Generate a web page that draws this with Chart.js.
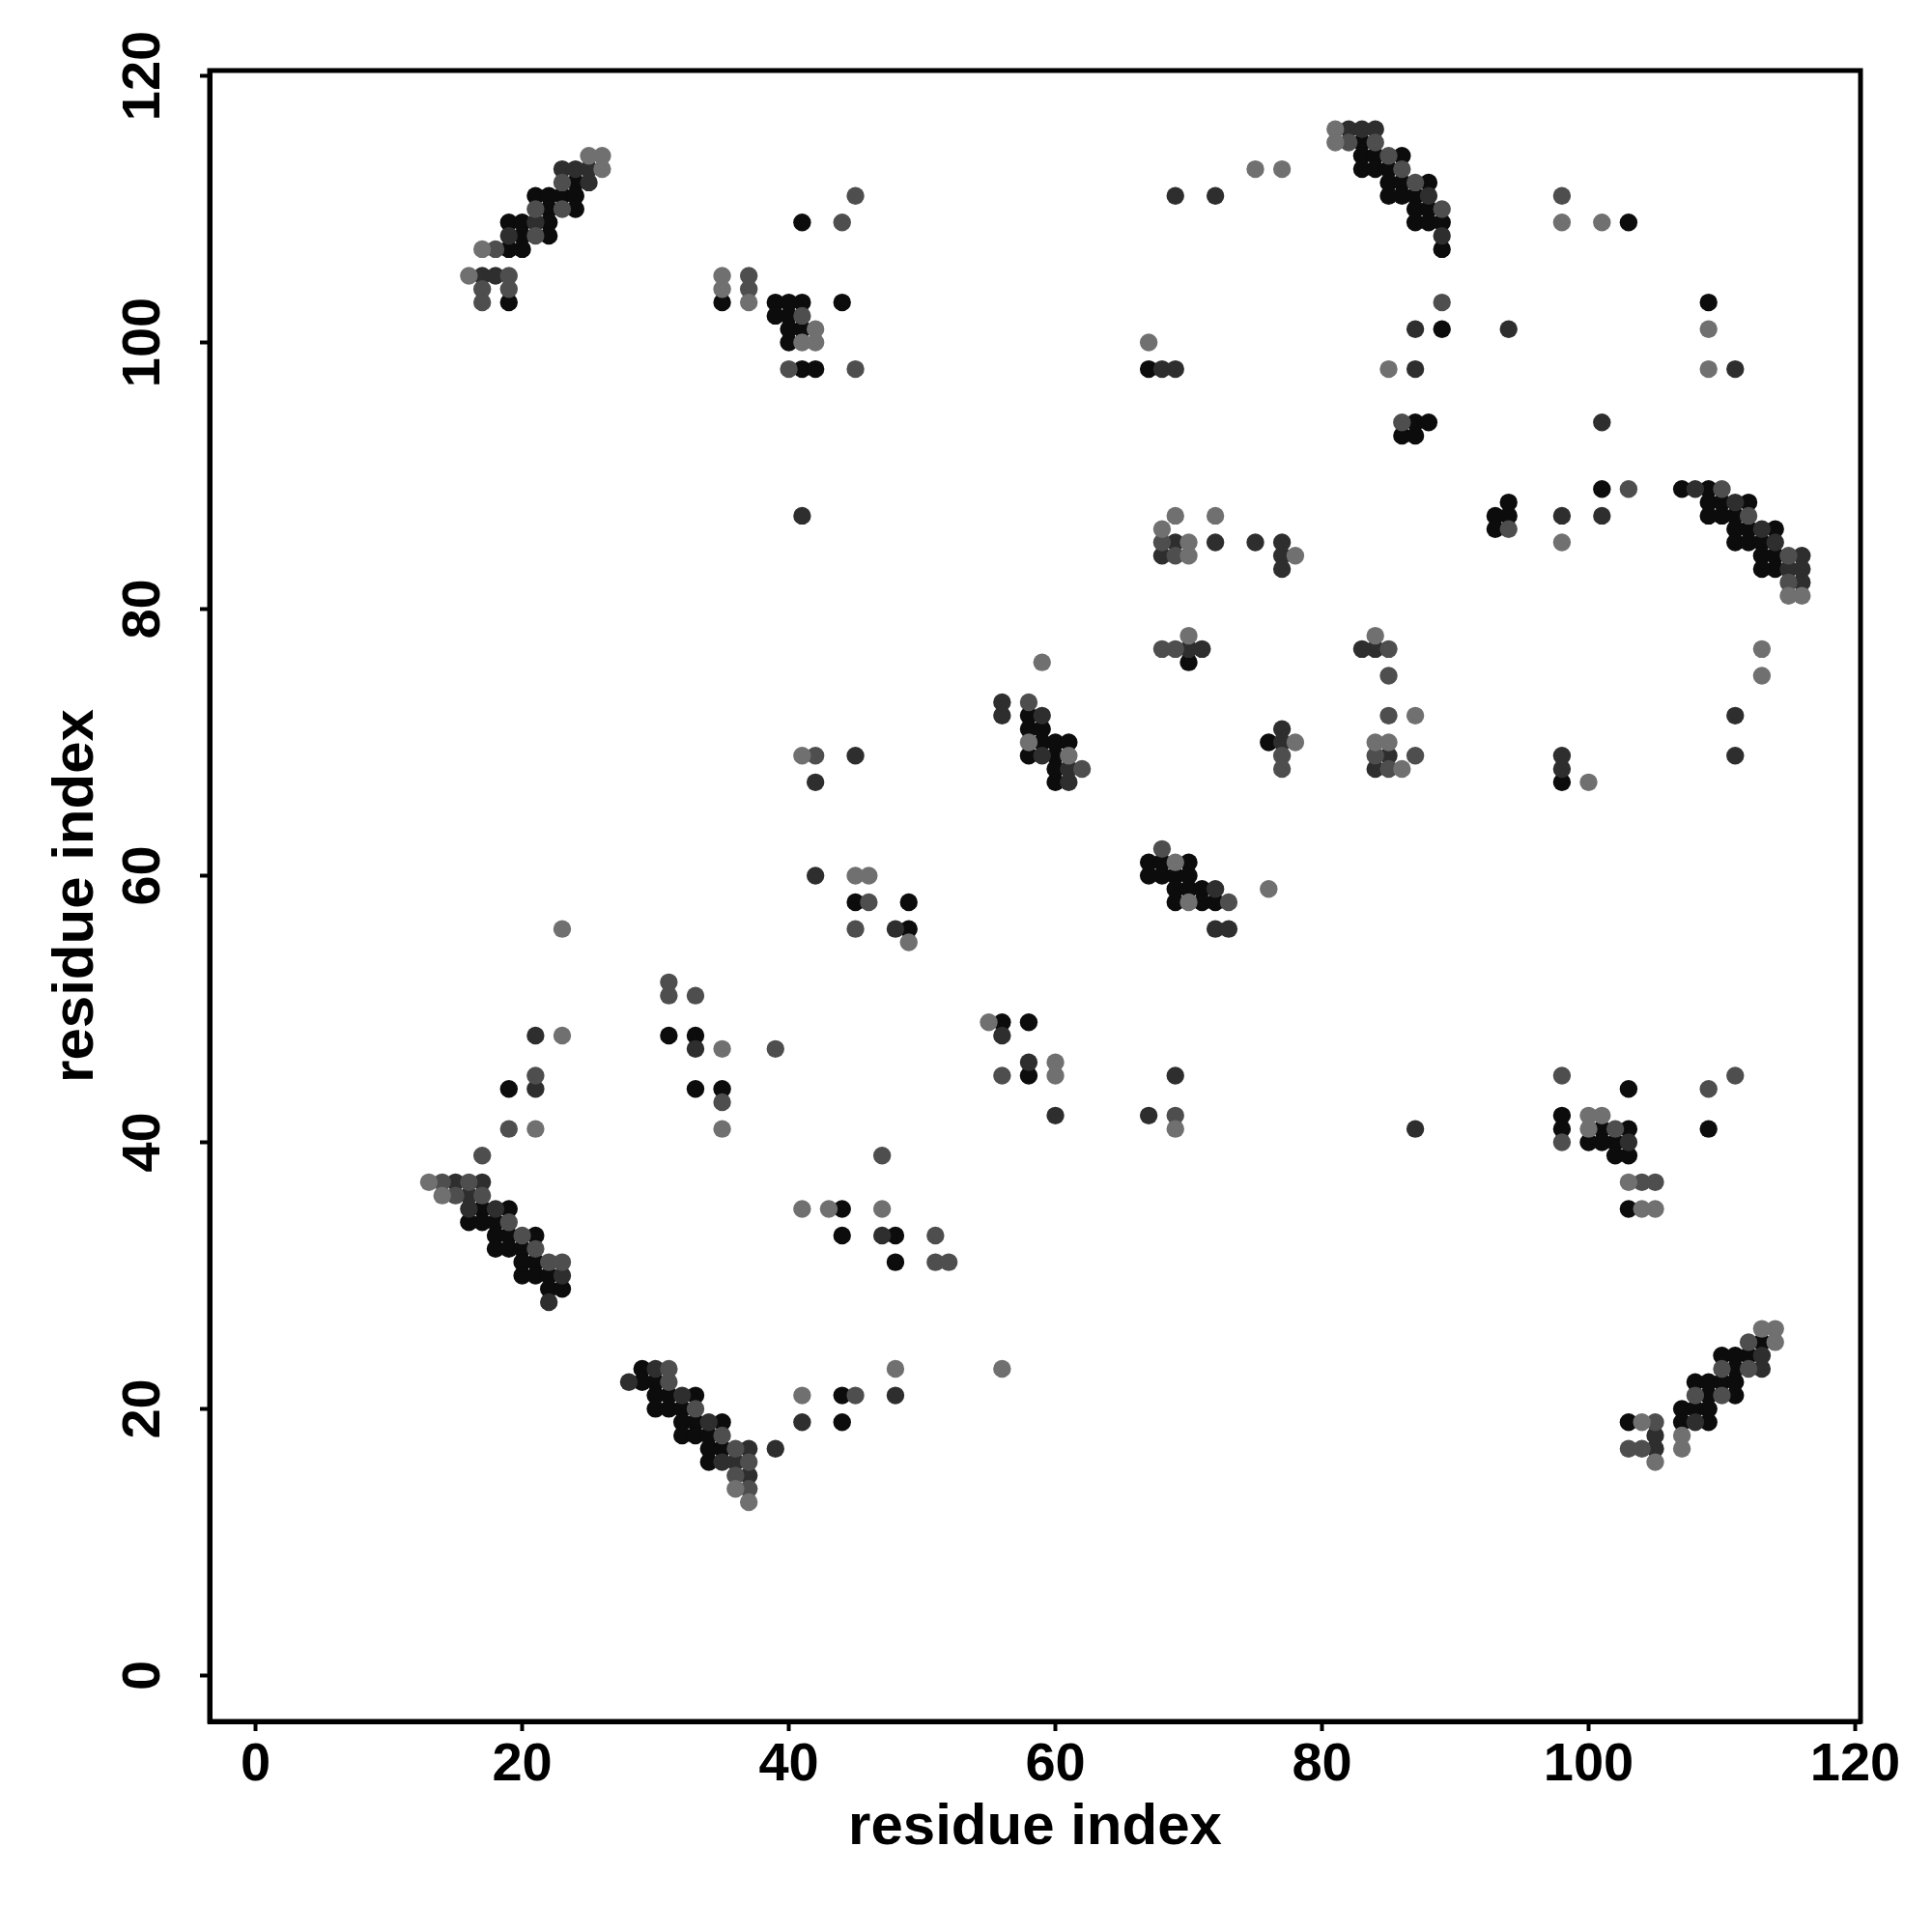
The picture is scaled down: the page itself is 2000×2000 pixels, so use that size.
<!DOCTYPE html>
<html>
<head>
<meta charset="utf-8">
<script src="https://cdn.jsdelivr.net/npm/chart.js@4.4.1/dist/chart.umd.min.js"></script>
<style>
html,body{margin:0;padding:0;background:#fff;}
#wrap{width:2000px;height:2000px;}
</style>
</head>
<body>
<div id="wrap"><canvas id="c" width="2000" height="2000"></canvas></div>
<script>
// ---- data: contact pairs [x, y] (residue index), grouped by grey level ----
const xTicks = [0, 20, 40, 60, 80, 100, 120];
const yTicks = [0, 20, 40, 60, 80, 100, 120];

const lightPts = [
  [25,114],[26,114],[26,113],[17,107],[16,105],
  [114,26],[113,26],[114,25],[104,19],[107,18],[107,17],[105,16],
  [35,105],[35,104],[37,103],[42,101],[41,100],[42,100],
  [100,42],[101,42],[100,41],[103,37],[104,35],[105,35],
  [81,116],[81,115],[85,98],[75,113],[77,113],[67,100],
  [98,109],[101,109],[109,101],[109,98],[98,85],[115,81],[116,81],
  [59,76],[58,70],[61,69],[41,69],[45,60],[46,60],[49,55],
  [69,87],[72,87],[68,86],[70,85],[70,84],[78,84],[70,78],[78,70],[69,61],[76,59],[70,58],
  [84,78],[87,72],[84,70],[85,70],[86,68],[113,77],[113,75],[100,67],
  [23,56],[23,48],[21,41],[13,37],[14,36],
  [35,47],[35,41],[36,14],[37,13],
  [41,35],[43,35],[47,35],[48,23],[41,21],
  [55,49],[60,46],[60,45],[69,41],
  [56,23]
];

const mediumPts = [
  [23,112],[21,110],[23,110],[21,108],[18,107],[19,105],[17,104],[19,104],[17,103],
  [112,25],[110,23],[112,23],[108,21],[110,21],[105,19],[103,17],[104,17],
  [45,111],[44,109],[37,105],[37,104],[41,102],[40,98],[45,98],
  [98,45],[109,44],[111,45],[102,41],[98,40],[104,37],[105,37],
  [82,115],[84,115],[85,114],[86,113],[87,112],[89,110],[89,103],[86,94],
  [98,111],[103,89],[110,89],[112,87],[94,86],[115,84],[115,82],
  [58,73],[62,68],[42,69],[46,58],[45,56],
  [68,85],[69,84],[68,77],[69,77],[77,69],[77,68],[68,62],[73,58],
  [85,77],[85,75],[85,72],[84,69],[87,69],[85,68],
  [21,45],[19,41],[17,39],[14,37],[16,37],[15,36],[17,36],[19,34],[20,33],[21,32],[22,31],[23,31],
  [31,52],[31,51],[33,51],[39,47],[35,43],[31,23],[31,22],[33,20],[35,18],[36,17],[37,16],[36,15],[37,14],
  [47,39],[51,33],[51,31],[52,31],[45,21],
  [56,45],[69,42]
];

const darkPts = [
  [23,113],[24,113],[25,113],[25,112],[21,109],[19,108],[17,105],[18,105],
  [113,24],[113,23],[108,19],[105,18],[105,17],
  [103,40],
  [82,116],[83,116],[84,116],[88,111],[89,108],[87,101],[87,98],[69,111],[72,111],[68,98],[69,98],
  [94,101],[111,98],[101,94],[108,89],[111,88],[98,87],[101,87],[113,86],[114,85],[116,84],[115,83],[116,83],[116,82],
  [56,73],[56,72],[59,72],[59,69],[61,68],[61,67],[45,69],[42,67],[42,60],[48,56],
  [69,85],[72,85],[75,85],[77,85],[68,84],[77,84],[77,83],[70,77],[71,77],[77,71],[77,70],[72,59],[72,56],[73,56],
  [83,77],[84,77],[85,69],[84,68],[111,72],[111,69],[98,69],[98,68],
  [21,48],[21,44],[15,37],[17,37],[16,36],[16,35],[18,35],[23,30],[22,28],
  [33,47],[30,23],[28,22],[32,21],[34,19],[37,17],[39,17],[35,16],[36,16],[37,15],
  [47,33],[48,21],[41,19],
  [56,48],[58,46],[60,42],[69,45],[67,42],
  [87,41],[41,87]
];

const blackPts = [
  [24,112],[21,111],[22,111],[23,111],[24,111],[22,110],[24,110],[19,109],[20,109],[22,109],[20,108],[22,108],[19,107],[20,107],[19,103],
  [113,25],[110,24],[111,24],[112,24],[111,23],[108,22],[109,22],[110,22],[111,22],[109,21],[111,21],[107,20],[108,20],[109,20],[103,19],[107,19],[109,19],
  [41,109],[35,103],[39,103],[40,103],[41,103],[44,103],[39,102],[40,102],[40,101],[41,101],[40,100],[41,98],[42,98],
  [103,44],[109,41],[98,42],[98,41],[101,41],[103,41],[100,40],[101,40],[102,40],[102,39],[103,39],[103,35],
  [83,115],[83,114],[84,114],[86,114],[83,113],[84,113],[85,113],[85,112],[86,112],[88,112],[85,111],[86,111],[87,111],[87,110],[88,110],[87,109],[88,109],[89,109],[89,107],[89,101],[87,94],[88,94],[86,93],[87,93],[67,98],
  [103,109],[109,103],[101,89],[107,89],[109,89],[94,88],[109,88],[110,88],[112,88],[93,87],[94,87],[109,87],[110,87],[111,87],[93,86],[111,86],[112,86],[114,86],[111,85],[112,85],[113,85],[113,84],[114,84],[113,83],[114,83],
  [58,72],[58,71],[59,71],[59,70],[60,70],[61,70],[58,69],[60,69],[60,68],[60,67],[45,58],[49,58],[49,56],
  [70,76],[76,70],[67,61],[68,61],[70,61],[67,60],[68,60],[69,60],[70,60],[69,59],[70,59],[71,59],[69,58],[71,58],[72,58],
  [98,67],
  [19,44],[17,35],[19,35],[16,34],[17,34],[18,34],[18,33],[19,33],[21,33],[18,32],[19,32],[20,32],[20,31],[21,31],[20,30],[21,30],[22,30],[22,29],[23,29],
  [31,48],[33,48],[33,44],[35,44],[29,23],[29,22],[30,22],[30,21],[31,21],[33,21],[30,20],[31,20],[32,20],[32,19],[33,19],[35,19],[32,18],[33,18],[34,18],[34,17],[35,17],[34,16],
  [44,35],[44,33],[48,33],[48,31],[44,21],[44,19],
  [56,49],[58,49],[58,45]
];

// ---- styling ----
const FONT = "'Liberation Sans', Arial, Helvetica, sans-serif";
const toXY = pts => pts.map(p => ({x: p[0], y: p[1]}));
const mk = (label, pts, color) => ({
  label, data: toXY(pts), backgroundColor: color, borderWidth: 0,
  pointRadius: 9.2, pointHoverRadius: 9.2
});

const framePlugin = {
  id: 'frame',
  afterDatasetsDraw(chart) {
    const {ctx, chartArea: a} = chart;
    ctx.save();
    ctx.strokeStyle = '#000';
    ctx.lineWidth = 5;
    ctx.strokeRect(a.left, a.top, a.right - a.left, a.bottom - a.top);
    ctx.restore();
  }
};

const axisCommon = {
  type: 'linear',
  min: -3.45,
  max: 120.4,
  grid: {display: true, drawOnChartArea: false, drawTicks: true, tickLength: 10, tickWidth: 4, tickColor: '#000'},
  border: {display: true, color: '#000', width: 5}
};

new Chart(document.getElementById('c'), {
  type: 'scatter',
  data: {
    datasets: [
      mk('light', lightPts, '#707070'),
      mk('medium', mediumPts, '#4e4e4e'),
      mk('dark', darkPts, '#2e2e2e'),
      mk('black', blackPts, '#0c0c0c')
    ]
  },
  options: {
    responsive: false,
    animation: false,
    layout: {padding: {left: 0, top: 73, right: 74, bottom: 68}},
    plugins: {legend: {display: false}, tooltip: {enabled: false}},
    scales: {
      x: Object.assign({}, axisCommon, {
        position: 'bottom',
        afterBuildTicks: s => { s.ticks = xTicks.map(v => ({value: v})); },
        afterFit: s => { s.height = 150; },
        ticks: {color: '#000', font: {family: FONT, size: 56, weight: 'bold'}, padding: 2, maxRotation: 0, autoSkip: false},
        title: {display: true, text: 'residue index', color: '#000',
                font: {family: FONT, size: 60, weight: 'bold'}, padding: {top: 0, bottom: 4}}
      }),
      y: Object.assign({}, axisCommon, {
        position: 'left',
        afterBuildTicks: s => { s.ticks = yTicks.map(v => ({value: v})); },
        afterFit: s => { s.width = 217; },
        ticks: {color: '#000', font: {family: FONT, size: 56, weight: 'bold'}, padding: 11,
                minRotation: 90, maxRotation: 90, crossAlign: 'center', autoSkip: false},
        title: {display: true, text: 'residue index', color: '#000',
                font: {family: FONT, size: 60, weight: 'bold'}, padding: {top: 43, bottom: 0}}
      })
    }
  },
  plugins: [framePlugin]
});
</script>
</body>
</html>
